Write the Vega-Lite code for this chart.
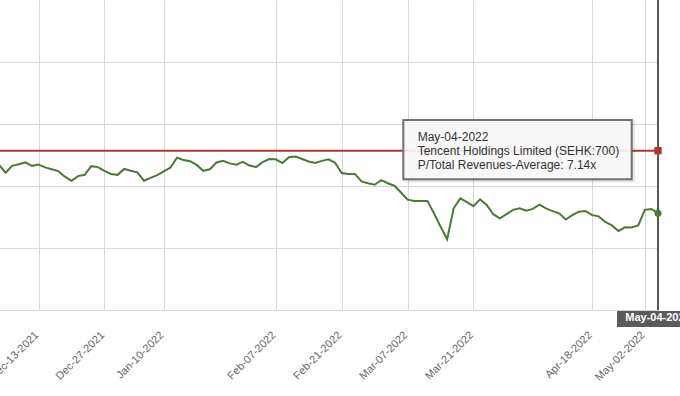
{
  "$schema": "https://vega.github.io/schema/vega-lite/v6.json",
  "width": 680,
  "height": 310,
  "autosize": {"type": "none"},
  "padding": {"left": 0, "top": 0, "right": 0, "bottom": 86},
  "background": "white",
  "config": {"view": {"stroke": null}, "font": "Liberation Sans"},
  "datasets": {
    "series": [
      {"date": "Dec-03-2021", "value": 6.68},
      {"date": "Dec-06-2021", "value": 6.43},
      {"date": "Dec-07-2021", "value": 6.65},
      {"date": "Dec-08-2021", "value": 6.70},
      {"date": "Dec-09-2021", "value": 6.76},
      {"date": "Dec-10-2021", "value": 6.65},
      {"date": "Dec-13-2021", "value": 6.69},
      {"date": "Dec-14-2021", "value": 6.60},
      {"date": "Dec-15-2021", "value": 6.54},
      {"date": "Dec-16-2021", "value": 6.48},
      {"date": "Dec-17-2021", "value": 6.30},
      {"date": "Dec-20-2021", "value": 6.17},
      {"date": "Dec-21-2021", "value": 6.32},
      {"date": "Dec-22-2021", "value": 6.36},
      {"date": "Dec-23-2021", "value": 6.64},
      {"date": "Dec-24-2021", "value": 6.61},
      {"date": "Dec-28-2021", "value": 6.49},
      {"date": "Dec-29-2021", "value": 6.39},
      {"date": "Dec-30-2021", "value": 6.36},
      {"date": "Dec-31-2021", "value": 6.55},
      {"date": "Jan-03-2022", "value": 6.49},
      {"date": "Jan-04-2022", "value": 6.44},
      {"date": "Jan-05-2022", "value": 6.17},
      {"date": "Jan-06-2022", "value": 6.26},
      {"date": "Jan-07-2022", "value": 6.35},
      {"date": "Jan-10-2022", "value": 6.47},
      {"date": "Jan-11-2022", "value": 6.59},
      {"date": "Jan-12-2022", "value": 6.91},
      {"date": "Jan-13-2022", "value": 6.84},
      {"date": "Jan-14-2022", "value": 6.80},
      {"date": "Jan-17-2022", "value": 6.68},
      {"date": "Jan-18-2022", "value": 6.49},
      {"date": "Jan-19-2022", "value": 6.54},
      {"date": "Jan-20-2022", "value": 6.76},
      {"date": "Jan-21-2022", "value": 6.81},
      {"date": "Jan-24-2022", "value": 6.73},
      {"date": "Jan-25-2022", "value": 6.69},
      {"date": "Jan-26-2022", "value": 6.78},
      {"date": "Jan-27-2022", "value": 6.66},
      {"date": "Jan-28-2022", "value": 6.61},
      {"date": "Jan-31-2022", "value": 6.77},
      {"date": "Feb-04-2022", "value": 6.87},
      {"date": "Feb-07-2022", "value": 6.86},
      {"date": "Feb-08-2022", "value": 6.74},
      {"date": "Feb-09-2022", "value": 6.93},
      {"date": "Feb-10-2022", "value": 6.95},
      {"date": "Feb-11-2022", "value": 6.87},
      {"date": "Feb-14-2022", "value": 6.79},
      {"date": "Feb-15-2022", "value": 6.74},
      {"date": "Feb-16-2022", "value": 6.81},
      {"date": "Feb-17-2022", "value": 6.86},
      {"date": "Feb-18-2022", "value": 6.75},
      {"date": "Feb-21-2022", "value": 6.42},
      {"date": "Feb-22-2022", "value": 6.39},
      {"date": "Feb-23-2022", "value": 6.39},
      {"date": "Feb-24-2022", "value": 6.15},
      {"date": "Feb-25-2022", "value": 6.09},
      {"date": "Feb-28-2022", "value": 6.04},
      {"date": "Mar-01-2022", "value": 6.19},
      {"date": "Mar-02-2022", "value": 6.09},
      {"date": "Mar-03-2022", "value": 6.01},
      {"date": "Mar-04-2022", "value": 5.79},
      {"date": "Mar-07-2022", "value": 5.56},
      {"date": "Mar-08-2022", "value": 5.52},
      {"date": "Mar-09-2022", "value": 5.52},
      {"date": "Mar-10-2022", "value": 5.52},
      {"date": "Mar-11-2022", "value": 5.12},
      {"date": "Mar-14-2022", "value": 4.69},
      {"date": "Mar-15-2022", "value": 4.28},
      {"date": "Mar-16-2022", "value": 5.28},
      {"date": "Mar-17-2022", "value": 5.60},
      {"date": "Mar-18-2022", "value": 5.48},
      {"date": "Mar-21-2022", "value": 5.35},
      {"date": "Mar-22-2022", "value": 5.57},
      {"date": "Mar-23-2022", "value": 5.39},
      {"date": "Mar-24-2022", "value": 5.09},
      {"date": "Mar-25-2022", "value": 4.96},
      {"date": "Mar-28-2022", "value": 5.09},
      {"date": "Mar-29-2022", "value": 5.23},
      {"date": "Mar-30-2022", "value": 5.28},
      {"date": "Mar-31-2022", "value": 5.20},
      {"date": "Apr-01-2022", "value": 5.26},
      {"date": "Apr-04-2022", "value": 5.40},
      {"date": "Apr-06-2022", "value": 5.28},
      {"date": "Apr-07-2022", "value": 5.19},
      {"date": "Apr-08-2022", "value": 5.12},
      {"date": "Apr-11-2022", "value": 4.92},
      {"date": "Apr-12-2022", "value": 5.06},
      {"date": "Apr-13-2022", "value": 5.17},
      {"date": "Apr-14-2022", "value": 5.19},
      {"date": "Apr-19-2022", "value": 5.06},
      {"date": "Apr-20-2022", "value": 5.02},
      {"date": "Apr-21-2022", "value": 4.84},
      {"date": "Apr-22-2022", "value": 4.73},
      {"date": "Apr-25-2022", "value": 4.55},
      {"date": "Apr-26-2022", "value": 4.67},
      {"date": "Apr-27-2022", "value": 4.66},
      {"date": "Apr-28-2022", "value": 4.73},
      {"date": "Apr-29-2022", "value": 5.23},
      {"date": "May-03-2022", "value": 5.26},
      {"date": "May-04-2022", "value": 5.12}
    ],
    "average": [
      {"start": "Dec-03-2021", "date": "May-04-2022", "avg": 7.14, "company": "Tencent Holdings Limited (SEHK:700)", "measure": "P/Total Revenues-Average"}
    ]
  },
  "layer": [
    {
      "data": {"name": "series"},
      "mark": {"type": "line", "color": "#4a7a36", "strokeWidth": 2},
      "encoding": {
        "x": {
          "field": "date", "type": "ordinal", "sort": null,
          "scale": {"type": "point", "range": [-1, 658], "padding": 0},
          "axis": {
            "title": null,
            "values": ["Dec-13-2021", "Dec-28-2021", "Jan-10-2022", "Feb-07-2022", "Feb-21-2022", "Mar-07-2022", "Mar-21-2022", "Apr-19-2022", "Apr-29-2022"],
            "labelExpr": "datum.value == 'Dec-28-2021' ? 'Dec-27-2021' : datum.value == 'Apr-19-2022' ? 'Apr-18-2022' : datum.value == 'Apr-29-2022' ? 'May-02-2022' : datum.value",
            "labelAngle": -45, "labelAlign": "right", "labelBaseline": "middle",
            "labelPadding": 23, "labelOffset": -2, "labelFont": "Liberation Sans", "labelFontSize": 11,
            "labelColor": "#666666", "labelOverlap": false, "labelBound": false, "labelFlush": false,
            "ticks": false, "domainColor": "#ccd6eb", "domainWidth": 1,
            "grid": true, "gridColor": "#d8d8d8", "gridWidth": 1
          }
        },
        "y": {
          "field": "value", "type": "quantitative",
          "scale": {"domain": [2, 12], "nice": false, "zero": false},
          "axis": {"title": null, "values": [4, 6, 8, 10], "labels": false, "ticks": false, "domain": false, "grid": true, "gridColor": "#d8d8d8", "gridWidth": 1}
        }
      }
    },
    {
      "data": {"name": "average"},
      "mark": {"type": "rule", "color": "#a83a32", "strokeWidth": 2},
      "encoding": {
        "x": {"field": "start", "type": "ordinal", "sort": null},
        "x2": {"field": "date"},
        "y": {"field": "avg", "type": "quantitative"}
      }
    },
    {
      "data": {"name": "average"},
      "mark": {"type": "rule", "color": "#555555", "strokeWidth": 2},
      "encoding": {
        "x": {"field": "date", "type": "ordinal", "sort": null}
      }
    },
    {
      "data": {"name": "series"},
      "transform": [{"filter": "datum.date == 'May-04-2022'"}],
      "mark": {"type": "point", "shape": "circle", "filled": true, "size": 50, "color": "#4a7a36", "opacity": 1},
      "encoding": {
        "x": {"field": "date", "type": "ordinal", "sort": null},
        "y": {"field": "value", "type": "quantitative"}
      }
    },
    {
      "data": {"name": "average"},
      "mark": {"type": "point", "shape": "square", "filled": true, "size": 55, "color": "#a83a32", "opacity": 1},
      "encoding": {
        "x": {"field": "date", "type": "ordinal", "sort": null},
        "y": {"field": "avg", "type": "quantitative"}
      }
    },
    {
      "data": {"name": "average"},
      "mark": {"type": "rect", "fill": null, "stroke": "#000000", "strokeOpacity": 0.1, "strokeWidth": 3,
               "xOffset": -253, "x2Offset": -24.5, "yOffset": -29, "y2Offset": 30.3},
      "encoding": {
        "x": {"field": "date", "type": "ordinal", "sort": null},
        "x2": {"field": "date"},
        "y": {"field": "avg", "type": "quantitative"},
        "y2": {"field": "avg"}
      }
    },
    {
      "data": {"name": "average"},
      "mark": {"type": "rect", "fill": "#f7f7f7", "fillOpacity": 0.92, "stroke": "#707070", "strokeWidth": 2,
               "xOffset": -254.7, "x2Offset": -26.3, "yOffset": -30.7, "y2Offset": 28.6},
      "encoding": {
        "x": {"field": "date", "type": "ordinal", "sort": null},
        "x2": {"field": "date"},
        "y": {"field": "avg", "type": "quantitative"},
        "y2": {"field": "avg"}
      }
    },
    {
      "data": {"name": "average"},
      "transform": [{"calculate": "datum.date + '\\n' + datum.company + '\\n' + datum.measure + ': ' + format(datum.avg, '.2f') + 'x'", "as": "label"}],
      "mark": {"type": "text", "lineBreak": "\n", "align": "left", "baseline": "alphabetic",
               "font": "Liberation Sans", "fontSize": 12, "color": "#333333", "lineHeight": 14,
               "xOffset": -240.3, "yOffset": -9.7},
      "encoding": {
        "x": {"field": "date", "type": "ordinal", "sort": null},
        "y": {"field": "avg", "type": "quantitative"},
        "text": {"field": "label"}
      }
    },
    {
      "data": {"name": "average"},
      "mark": {"type": "rect", "color": "#5b5b5b", "opacity": 1, "xOffset": -41, "x2Offset": 41, "yOffset": 1, "y2Offset": 17},
      "encoding": {
        "x": {"field": "date", "type": "ordinal", "sort": null},
        "x2": {"field": "date"},
        "y": {"datum": 2, "type": "quantitative"},
        "y2": {"datum": 2}
      }
    },
    {
      "data": {"name": "average"},
      "mark": {"type": "text", "color": "#ffffff", "font": "Liberation Sans", "fontSize": 11, "fontWeight": "bold",
               "align": "center", "baseline": "alphabetic", "yOffset": 11},
      "encoding": {
        "x": {"field": "date", "type": "ordinal", "sort": null},
        "y": {"datum": 2, "type": "quantitative"},
        "text": {"field": "date"}
      }
    }
  ]
}
